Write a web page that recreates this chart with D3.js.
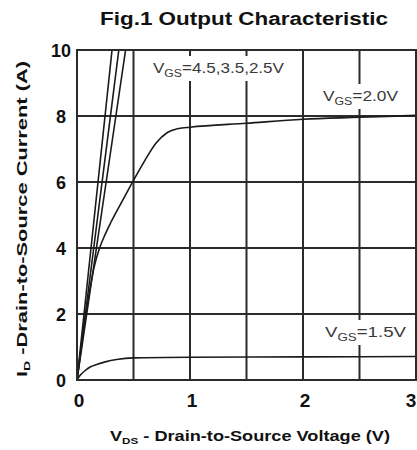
<!DOCTYPE html>
<html><head><meta charset="utf-8">
<script src="https://cdn.jsdelivr.net/npm/d3@7"></script>
<style>
html,body{margin:0;padding:0;background:#fff;}
svg{display:block;font-family:"Liberation Sans",Arial,sans-serif;}
</style></head>
<body>
<svg id="chart" width="417" height="450"></svg>
<script>
// ---- data ----
const xTicks = [0, 1, 2, 3];
const yTicks = [0, 2, 4, 6, 8, 10];
const xGrid = [0.5, 1, 1.5, 2, 2.5];
const yGrid = [2, 4, 6, 8];

// VGS = 4.5, 3.5, 2.5 V : near-linear, leaving the top at ~0.31-0.44 V
const vds45 = [0, 0.155, 0.31, 0.341];
const id45  = [0, 5, 10, 11];
const vds35 = [0, 0.185, 0.37, 0.407];
const id35  = [0, 5, 10, 11];
const vds25 = [0, 0.215, 0.43, 0.473];
const id25  = [0, 5, 10, 11];

// VGS = 2.0 V
const vds20 = [0, 0.05, 0.1, 0.15, 0.2, 0.25, 0.3, 0.4, 0.5, 0.6, 0.7, 0.8, 0.9, 1.0, 1.5, 2.0, 2.5, 3.0];
const id20  = [0, 1.3, 2.45, 3.4, 4.0, 4.42, 4.78, 5.42, 6.05, 6.65, 7.18, 7.5, 7.62, 7.66, 7.78, 7.9, 7.96, 8.02];

// VGS = 1.5 V
const vds15 = [0, 0.03, 0.07, 0.12, 0.18, 0.25, 0.35, 0.5, 1.0, 2.0, 3.0];
const id15  = [0, 0.15, 0.28, 0.4, 0.48, 0.55, 0.62, 0.67, 0.69, 0.7, 0.71];

const title = "Fig.1 Output Characteristic";

// ---- drawing ----
const svg = d3.select("#chart");
const x = d3.scaleLinear().domain([0, 3]).range([77, 416]);
const y = d3.scaleLinear().domain([0, 10]).range([380, 50]);
const gridColor = "#2b2b2b";

svg.append("defs").append("clipPath").attr("id", "clip")
  .append("rect").attr("x", x(0)).attr("y", y(10)).attr("width", x(3) - x(0)).attr("height", y(0) - y(10));

// grid
svg.append("g").selectAll("line").data(xGrid).join("line")
  .attr("x1", d => x(d)).attr("x2", d => x(d)).attr("y1", y(0)).attr("y2", y(10))
  .attr("stroke", gridColor).attr("stroke-width", 2);
svg.append("g").selectAll("line").data(yGrid).join("line")
  .attr("x1", x(0)).attr("x2", x(3)).attr("y1", d => y(d)).attr("y2", d => y(d))
  .attr("stroke", gridColor).attr("stroke-width", 2);

// curves
const series = [
  [vds45, id45], [vds35, id35], [vds25, id25], [vds20, id20], [vds15, id15]
];
const line = d3.line().x(d => x(d[0])).y(d => y(d[1])).curve(d3.curveMonotoneX);
const gc = svg.append("g").attr("clip-path", "url(#clip)");
series.forEach(([vx, vy]) => {
  gc.append("path").datum(vx.map((v, i) => [v, vy[i]]))
    .attr("d", line).attr("fill", "none").attr("stroke", "#1a1a1a").attr("stroke-width", 1.6);
});

// curve labels with white backing
function vgsLabel(xPos, yPos, rest, len) {
  const g = svg.append("g");
  const bg = g.append("rect").attr("fill", "#fff");
  const t = g.append("text").attr("x", xPos).attr("y", yPos)
    .attr("font-size", 14).attr("fill", "#3a3a3a")
    .attr("textLength", len).attr("lengthAdjust", "spacingAndGlyphs");
  t.append("tspan").text("V");
  t.append("tspan").attr("font-size", 10).attr("dy", 4).text("GS");
  t.append("tspan").attr("dy", -4).text(rest);
  const b = t.node().getBBox();
  bg.attr("x", b.x - 3).attr("y", b.y - 4).attr("width", b.width + 6).attr("height", b.height + 6);
}
vgsLabel(153, 73, "=4.5,3.5,2.5V", 131);
vgsLabel(323, 101, "=2.0V", 75);
vgsLabel(325, 337, "=1.5V", 81);

// frame
svg.append("rect").attr("x", x(0)).attr("y", y(10)).attr("width", x(3) - x(0)).attr("height", y(0) - y(10))
  .attr("fill", "none").attr("stroke", gridColor).attr("stroke-width", 2);

// tick labels
svg.append("g").selectAll("text").data(yTicks).join("text")
  .attr("x", 61).attr("y", d => y(d) + 6.5).attr("text-anchor", "middle")
  .attr("font-size", 18).attr("font-weight", "bold").attr("fill", "#111")
  .text(d => d);
svg.append("g").selectAll("text").data(xTicks).join("text")
  .attr("x", d => Math.min(x(d) + 2, 411)).attr("y", 407).attr("text-anchor", "middle")
  .attr("font-size", 19).attr("font-weight", "bold").attr("fill", "#111")
  .text(d => d);

// title
svg.append("text").attr("x", 100).attr("y", 25).attr("font-size", 18).attr("font-weight", "bold")
  .attr("fill", "#111").attr("textLength", 288).attr("lengthAdjust", "spacingAndGlyphs").text(title);

// x axis title
const xt = svg.append("text").attr("x", 110).attr("y", 441).attr("font-size", 14).attr("font-weight", "bold")
  .attr("fill", "#111").attr("textLength", 280).attr("lengthAdjust", "spacingAndGlyphs");
xt.append("tspan").text("V");
xt.append("tspan").attr("font-size", 9).attr("dy", 3).text("DS");
xt.append("tspan").attr("dy", -3).text(" - Drain-to-Source Voltage (V)");

// y axis title
const yt = svg.append("text").attr("transform", "translate(27,377) rotate(-90)")
  .attr("font-size", 14).attr("font-weight", "bold").attr("fill", "#111")
  .attr("textLength", 316).attr("lengthAdjust", "spacingAndGlyphs");
yt.append("tspan").text("I");
yt.append("tspan").attr("font-size", 9).attr("dy", 3).text("D");
yt.append("tspan").attr("dy", -3).text(" -Drain-to-Source Current (A)");
</script>
</body></html>
